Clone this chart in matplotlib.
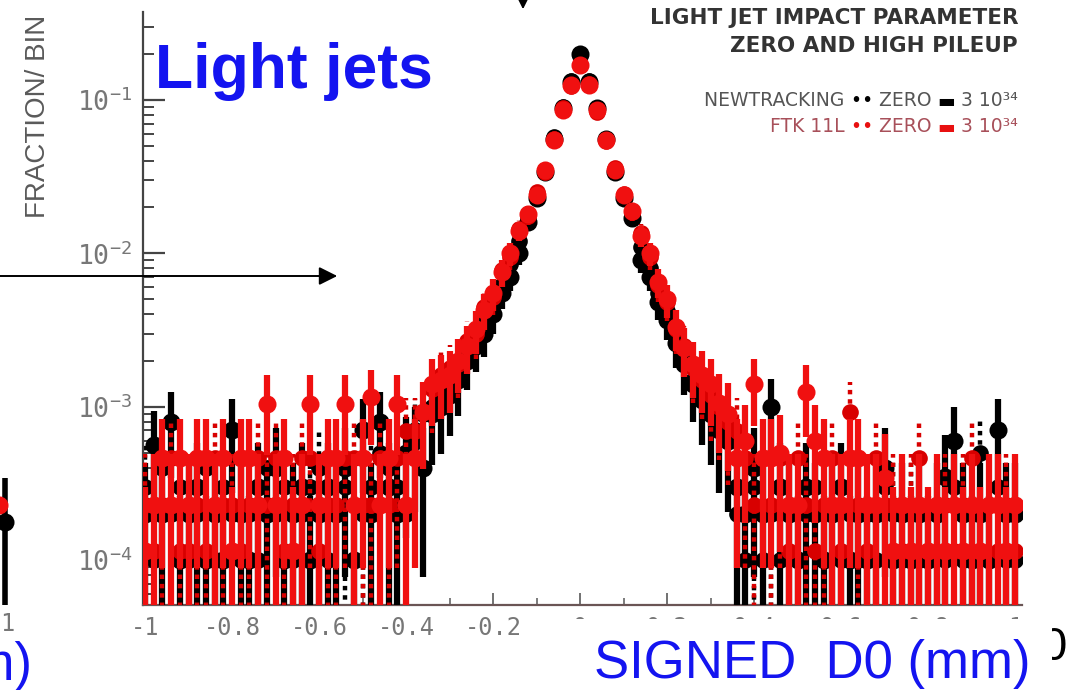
import numpy as np
import matplotlib
matplotlib.use("Agg")
import matplotlib.pyplot as plt
from matplotlib.offsetbox import TextArea, HPacker, AnnotationBbox
from matplotlib.patches import FancyArrowPatch, Rectangle
from matplotlib.ticker import FixedLocator, FixedFormatter, NullFormatter

plt.rcParams['axes.unicode_minus'] = False
plt.rcParams['mathtext.fontset'] = 'dejavusans'

W, H = 1081, 690

# Signed transverse impact parameter, bin centres (mm)
d0_bins = np.linspace(-1.0, 1.0, 101)

# Fraction of tracks per bin, in units of 1e-4
newtracking_zero = [
    3, 1, 4, 2, 3, 1, 2, 4, 1, 3, 2, 1, 2, 1, 4, 2, 3, 1, 2, 3, 4, 1, 2, 3, 1, 2, 3, 5, 4, 3, 2, 7, 9,
    10, 11, 13, 17, 22, 28, 36, 48, 62, 85, 120, 175, 240, 350, 570, 900, 1320, 1950,
    1320, 890, 560, 345, 235, 175, 110, 80, 55, 42, 28, 21, 15, 12, 10, 8, 7,
    2, 1, 3, 1, 2, 1, 2, 1, 2, 3, 1, 2, 1, 2, 1, 2, 1, 3, 2, 1, 2, 1, 1, 2, 1, 3, 1, 2, 5, 1, 3, 1, 1,
]
newtracking_highpu = [
    2, 5.6, 2, 8, 1, 2, 3, 1, 2, 1, 7, 2, 1, 3, 2, 4, 1, 2, 3, 1, 2, 3, 2, 4, 1, 7, 2, 8, 3, 2, 5, 6, 4,
    9, 10, 12, 15, 20, 25, 30, 40, 55, 70, 100, 160, 230, 340, 560, 880, 1300, 2000,
    1300, 880, 560, 340, 230, 170, 90, 70, 48, 37, 26, 19, 14, 11, 9, 7, 6,
    3, 2, 4, 2, 10, 3, 2, 1, 3, 2, 1, 2, 3, 1, 2, 1, 2, 4, 1, 2, 1, 2, 1, 2, 3.5, 6, 2, 1, 2, 1, 7, 2, 2,
]
ftk_zero = [
    2.3, 1.15, 2.3, 4.6, 1.15, 1.15, 2.3, 1.15, 4.6, 2.3, 2.3, 1.15, 2.3, 4.6, 2.3, 4.6, 1.15,
    2.3, 4.6, 4.6, 1.15, 2.3, 2.3, 4.6, 4.6, 2.3, 2.3, 4.6, 2.3, 4.6, 6.9, 6.9, 9.2,
    13, 16, 18, 19, 27, 30, 45, 52, 78, 95, 145, 175, 250, 340, 560, 880, 1230, 1700,
    1270, 840, 540, 360, 245, 185, 135, 95, 62, 48, 32, 25, 18, 15, 12, 10, 8,
    6.9, 4.6, 2.3, 4.6, 2.3, 4.6, 1.15, 4.6, 2.3, 1.15, 2.3, 4.6, 1.15, 9.2, 2.3, 1.15, 4.6,
    2.3, 2.3, 1.15, 2.3, 4.6, 1.15, 2.3, 2.3, 1.15, 2.3, 4.6, 1.15, 2.3, 1.15, 2.3, 1.15,
]
ftk_highpu = [
    1.15, 2.3, 4.6, 2.3, 4.6, 2.3, 4.6, 4.6, 2.3, 4.6, 1.15, 4.6, 4.6, 2.3, 10.4, 2.3, 4.6,
    1.15, 2.3, 10.4, 2.3, 4.6, 4.6, 10.4, 2.3, 4.6, 11.5, 2.3, 4.6, 10.4, 2.3, 4.6, 9.2,
    14, 15, 16, 20, 25, 32, 43, 55, 75, 100, 140, 180, 240, 350, 550, 860, 1250, 1680,
    1250, 860, 550, 350, 240, 190, 130, 100, 65, 50, 33, 24, 19, 16, 14, 10.6, 9,
    4.6, 6, 14, 4.6, 4.6, 5, 2.3, 2.3, 12.5, 6, 4.6, 2.3, 2.3, 4.6, 4.6, 2.3, 2.3,
    3.45, 1.15, 2.3, 1.15, 2.3, 1.15, 2.3, 1.15, 2.3, 1.15, 2.3, 1.15, 2.3, 2.3, 1.15, 2.3,
]

# Weight of a single entry (units of 1e-4) for the statistical error bars
entry_weight_newtracking = 2.6
entry_weight_ftk = 3.0

# Points of the neighbouring panel that reach into the left margin
side_x = [0.1, -0.25]
side_y = [1.77, 2.3]

X_TICKS = [-1, -0.8, -0.6, -0.4, -0.2, 0, 0.2, 0.4, 0.6, 0.8, 1]
X_TICK_LABELS = ['-1', '-0.8', '-0.6', '-0.4', '-0.2', '0', '0.2', '0.4', '0.6', '0.8', '1']
Y_TICKS = [1e-4, 1e-3, 1e-2, 1e-1]
Y_TICK_LABELS = [r'$\mathtt{10}^{\mathtt{-4}}$', r'$\mathtt{10}^{\mathtt{-3}}$',
                 r'$\mathtt{10}^{\mathtt{-2}}$', r'$\mathtt{10}^{\mathtt{-1}}$']


def px(x, y):
    return x / W, 1 - y / H


fig = plt.figure(figsize=(W / 100, H / 100), dpi=100)
fig.patch.set_facecolor('white')

x0, y0 = px(143, 605)
x1, y1 = px(1022, 12)
ax = fig.add_axes([x0, y0, x1 - x0, y1 - y0])
ax.set_yscale('log')
ax.set_xlim(-1.0046, 1.016)
ax.set_ylim(5.1e-5, 0.374)


def draw_series(values, weight, color, dotted, ms, lw, z):
    v = np.asarray(values, dtype=float) * 1e-4
    err = np.sqrt(v * weight * 1e-4)
    lower = np.minimum(err, v)
    eb = ax.errorbar(d0_bins, v, yerr=[lower, err], fmt='o', color=color,
                     ms=ms, mew=0, elinewidth=lw, capsize=0, zorder=z)
    if dotted:
        eb[2][0].set_linestyle((0, (1, 1.1)))
    return eb


draw_series(newtracking_zero, entry_weight_newtracking, 'black', True, 12, 3.2, 2)
draw_series(newtracking_highpu, entry_weight_newtracking, 'black', False, 13, 4.5, 3)
draw_series(ftk_zero, entry_weight_ftk, '#d80000', True, 12, 3.2, 4)
draw_series(ftk_highpu, entry_weight_ftk, '#f01010', False, 13, 4.5, 5)

for side in ['top', 'right']:
    ax.spines[side].set_visible(False)
ax.spines['left'].set_color('#444444')
ax.spines['left'].set_linewidth(1.6)
ax.spines['bottom'].set_color('#6a5555')
ax.spines['bottom'].set_linewidth(1.6)

ax.yaxis.set_major_locator(FixedLocator(Y_TICKS))
ax.yaxis.set_major_formatter(FixedFormatter(Y_TICK_LABELS))
ax.yaxis.set_minor_formatter(NullFormatter())
ax.xaxis.set_major_locator(FixedLocator(X_TICKS))
ax.xaxis.set_major_formatter(FixedFormatter(X_TICK_LABELS))
ax.xaxis.set_minor_locator(FixedLocator(np.arange(-0.9, 1.0, 0.2)))

ax.tick_params(axis='y', which='major', direction='in', length=16, width=1.6,
               color='#444444', pad=8, labelsize=19, labelcolor='#777777')
ax.tick_params(axis='y', which='minor', direction='in', length=8, width=1.4,
               color='#444444')
ax.tick_params(axis='x', which='major', direction='in', length=9, width=1.3,
               color='#666666', pad=8, labelsize=17, labelcolor='#777777')
ax.tick_params(axis='x', which='minor', direction='in', length=5, width=1.2,
               color='#666666')
for lab in ax.get_xticklabels():
    lab.set_family('DejaVu Sans Mono')

# neighbouring panel fragment at the left edge
sx0, sy0 = px(-12, 605)
sx1, sy1 = px(18, 12)
side_ax = fig.add_axes([sx0, sy0, sx1 - sx0, sy1 - sy0])
side_ax.set_yscale('log')
side_ax.set_xlim(-1, 1)
side_ax.set_ylim(5.1e-5, 0.374)
side_ax.axis('off')
sv = np.asarray(side_y) * 1e-4
side_ax.errorbar(side_x[:1], sv[:1], yerr=[sv[:1], sv[:1] * 0.95], fmt='o', color='black',
                 ms=13, mew=0, elinewidth=4, capsize=0, zorder=2)
side_ax.plot(side_x[1:], sv[1:], 'o', color='#f01010', ms=13, mew=0, zorder=3)
fig.text(*px(7, 612), '1', fontsize=17, family='DejaVu Sans Mono', color='#777777',
         ha='center', va='top')

# axis title
fig.text(*px(38, 116), 'FRACTION/ BIN', rotation=90, ha='center', va='center',
         fontsize=20, color='#5a5a5a', family='Liberation Sans')

# plot title
fig.text(*px(1018, 18), 'LIGHT JET IMPACT PARAMETER', ha='right', va='center',
         fontsize=15.5, weight='bold', color='#333333')
fig.text(*px(1018, 46), 'ZERO AND HIGH PILEUP', ha='right', va='center',
         fontsize=15.5, weight='bold', color='#333333')

# legend rows
legend_rows = [
    (101, [('NEWTRACKING ', '#555555'), ('•• ', 'black'), ('ZERO ', '#555555'),
           ('▬', 'black'), (' 3 10³⁴', '#555555')]),
    (127, [('FTK 11L ', '#a8505a'), ('•• ', '#e81010'), ('ZERO ', '#a8505a'),
           ('▬', '#e81010'), (' 3 10³⁴', '#a8505a')]),
]
for ypix, pieces in legend_rows:
    boxes = [TextArea(t, textprops=dict(color=c, fontsize=13.5)) for t, c in pieces]
    row = HPacker(children=boxes, align='baseline', pad=0, sep=0)
    ab = AnnotationBbox(row, px(1018, ypix), xycoords='figure fraction',
                        box_alignment=(1, 0.5), frameon=False, pad=0)
    fig.add_artist(ab)

# annotations laid over the slide
blue = '#1414f0'
fig.text(*px(155, 88), 'Light jets', fontsize=45, weight='bold', color=blue,
         family='Liberation Sans', va='baseline')

fig.text(*px(1040, 660), '0', fontsize=34, color='black', family='Liberation Sans',
         va='baseline', ha='left', zorder=5)
cover_x, cover_y = px(572, 690)
cover_w = (1052 - 572) / W
cover_h = (690 - 619) / H
fig.patches.append(Rectangle((cover_x, cover_y), cover_w, cover_h,
                             transform=fig.transFigure, facecolor='white',
                             edgecolor='none', zorder=10))
fig.text(*px(594, 678), 'SIGNED  D0 (mm)', fontsize=38, color=blue,
         family='Liberation Sans', va='baseline', zorder=11)
fig.text(*px(33, 680), '(mm)', fontsize=38, color=blue, family='Liberation Sans',
         va='baseline', ha='right', zorder=11)

arrow_h = FancyArrowPatch(px(-5, 276), px(340, 276), transform=fig.transFigure,
                          arrowstyle='-|>,head_length=1.1,head_width=0.55',
                          mutation_scale=10, color='black', lw=1.4, zorder=12)
fig.patches.append(arrow_h)
arrow_v = FancyArrowPatch(px(523, -40), px(523, 12), transform=fig.transFigure,
                          arrowstyle='-|>,head_length=1.1,head_width=0.55',
                          mutation_scale=10, color='black', lw=1.4, zorder=12)
fig.patches.append(arrow_v)

fig.savefig('out.png', dpi=100, facecolor='white')
